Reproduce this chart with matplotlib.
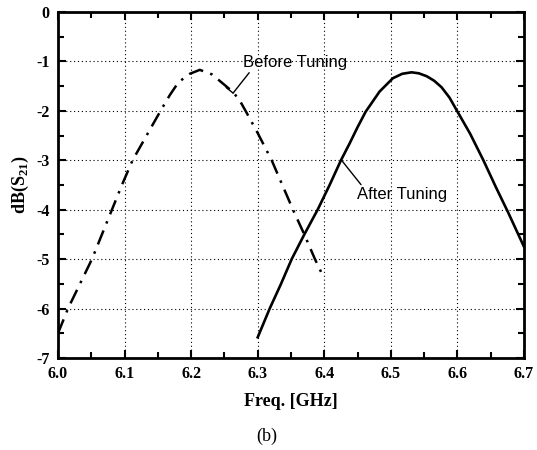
import matplotlib.pyplot as plt
from matplotlib.ticker import MultipleLocator

plt.rcParams['mathtext.fontset'] = 'custom'
plt.rcParams['mathtext.rm'] = 'Liberation Serif'
plt.rcParams['mathtext.bf'] = 'Liberation Serif:bold'

# S21 response before and after tuning
freq_before = [6.000, 6.015, 6.033, 6.051, 6.066, 6.081, 6.096, 6.112, 6.133, 6.154,
               6.168, 6.181, 6.198, 6.213, 6.231, 6.248, 6.263, 6.273, 6.283, 6.300,
               6.321, 6.337, 6.353, 6.370, 6.386, 6.397]
s21_before = [-6.50, -6.00, -5.50, -5.00, -4.50, -4.00, -3.50, -3.00, -2.50, -2.00,
              -1.68, -1.42, -1.25, -1.17, -1.26, -1.45, -1.62, -1.79, -2.03, -2.45,
              -3.00, -3.50, -4.00, -4.50, -5.00, -5.31]

freq_after = [6.300, 6.318, 6.335, 6.351, 6.370, 6.390, 6.408, 6.425, 6.438, 6.450,
              6.462, 6.483, 6.503, 6.517, 6.531, 6.542, 6.554, 6.565, 6.576, 6.588,
              6.599, 6.619, 6.639, 6.658, 6.676, 6.700]
s21_after = [-6.58, -6.00, -5.50, -5.00, -4.50, -4.00, -3.50, -3.00, -2.66, -2.33,
             -2.02, -1.61, -1.34, -1.25, -1.22, -1.24, -1.30, -1.39, -1.52, -1.73,
             -1.99, -2.46, -3.00, -3.55, -4.05, -4.75]

serif = ['Liberation Serif', 'DejaVu Serif']
sans = ['Liberation Sans', 'DejaVu Sans']

fig = plt.figure(figsize=(5.37, 4.5), dpi=100)
ax = fig.add_axes([0.108, 0.2044, 0.8678, 0.7689])

ax.plot(freq_before, s21_before, color='black', lw=1.8,
        dashes=(6, 3, 1, 3), solid_joinstyle='round')
ax.plot(freq_after, s21_after, color='black', lw=1.9, solid_joinstyle='round')

ax.set_xlim(6.0, 6.7)
ax.set_ylim(-7, 0)
ax.xaxis.set_major_locator(MultipleLocator(0.1))
ax.xaxis.set_minor_locator(MultipleLocator(0.05))
ax.yaxis.set_major_locator(MultipleLocator(1))
ax.yaxis.set_minor_locator(MultipleLocator(0.5))
ax.tick_params(which='both', direction='in', top=True, right=True, width=1.5)
ax.tick_params(which='major', length=6, pad=6)
ax.tick_params(which='minor', length=4)
ax.set_xticklabels(['%.1f' % v for v in ax.get_xticks()])
ax.set_yticklabels(['%d' % v for v in ax.get_yticks()])
for lab in ax.get_xticklabels() + ax.get_yticklabels():
    lab.set_family(serif)
    lab.set_fontweight('bold')
    lab.set_fontsize(11.5)

for sp in ax.spines.values():
    sp.set_linewidth(2)

ax.grid(True, which='major', color='black', ls=(0, (1, 2.5)), lw=0.8)

ax.set_xlabel('Freq. [GHz]', family=serif, fontweight='bold', fontsize=13, labelpad=8)
ax.set_ylabel(r'dB(S$_{\mathbf{21}}$)', family=serif, fontweight='bold',
              fontsize=13, labelpad=4)

# labels with leader lines
ax.annotate('Before Tuning', xy=(6.263, -1.64), xytext=(6.278, -1.02),
            family=sans, fontsize=12, ha='left', va='center',
            arrowprops=dict(arrowstyle='-', color='black', lw=1,
                            shrinkA=0, shrinkB=0, relpos=(0.08, 0)))
ax.annotate('', xy=(6.263, -1.64), xytext=(-5, 4), textcoords='offset points',
            arrowprops=dict(arrowstyle='-', color='black', lw=1,
                            shrinkA=0, shrinkB=0))
ax.annotate('After Tuning', xy=(6.426, -3.0), xytext=(6.449, -3.70),
            family=sans, fontsize=12, ha='left', va='center',
            arrowprops=dict(arrowstyle='-', color='black', lw=1,
                            shrinkA=0, shrinkB=0, relpos=(0.07, 1)))

fig.text(0.497, 0.03, '(b)', family=serif, fontsize=13, ha='center', va='center')

fig.savefig('out.png', dpi=100)
